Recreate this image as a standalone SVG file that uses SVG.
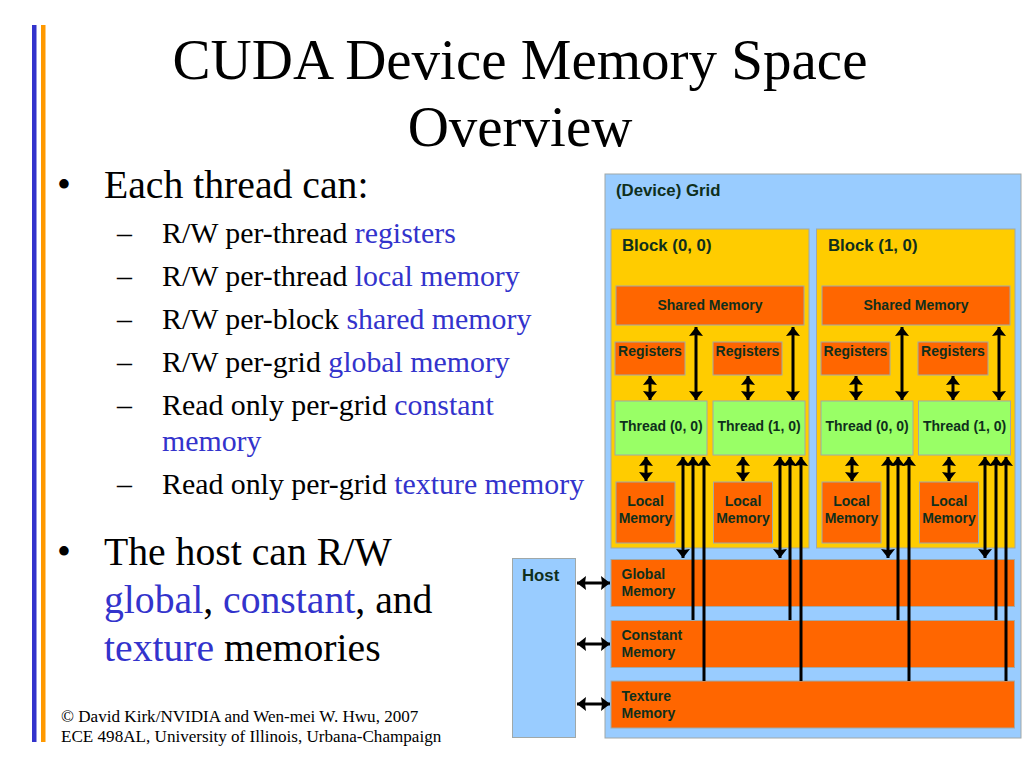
<svg xmlns="http://www.w3.org/2000/svg" width="1024" height="768" viewBox="0 0 1024 768">
<style>
.t{font-family:"Liberation Serif","Times New Roman",serif;fill:#000}
.title{font-size:57px;text-anchor:middle}
.l1{font-size:39.700px}
.l2{font-size:29.850px}
.foot{font-size:17.1px}
.hl{fill:#3333cc}
.n{font-family:"Liberation Sans",Arial,sans-serif;font-weight:bold;font-size:14px;fill:#0f2f1c}
.big{font-size:16.8px}
.m{text-anchor:middle}
.b{stroke:#a0a8a8;stroke-width:1}
.grid{fill:#99ccff}
.block{fill:#ffcc00}
.mem{fill:#ff6600}
.th{fill:#99ff66}
.c{stroke:#000;stroke-width:3;fill:none}
.d{marker-start:url(#h);marker-end:url(#h)}
.u{marker-start:url(#h)}
</style>
<defs>
<marker id="h" markerUnits="userSpaceOnUse" markerWidth="10" markerHeight="15" refX="9" refY="7" orient="auto-start-reverse" viewBox="0 0 10 14"><path d="M0 0L9 7L0 14L1 7Z" fill="#000"/></marker>
</defs>
<rect x="32" y="25" width="4.500" height="717" fill="#3333cc"/>
<rect x="41" y="25" width="4.500" height="717" fill="#ff9900"/>
<g id="slide-text">
<text class="t title" x="520" y="79">CUDA Device Memory Space</text>
<text class="t title" x="520" y="146">Overview</text>
<text class="t l1" x="57" y="198">•</text>
<text class="t l1" x="104" y="198">Each thread can:</text>
<text class="t l2" x="117" y="243">–</text><text class="t l2" x="162" y="243">R/W per-thread <tspan class="hl">registers</tspan></text>
<text class="t l2" x="117" y="286">–</text><text class="t l2" x="162" y="286">R/W per-thread <tspan class="hl">local memory</tspan></text>
<text class="t l2" x="117" y="329">–</text><text class="t l2" x="162" y="329">R/W per-block <tspan class="hl">shared memory</tspan></text>
<text class="t l2" x="117" y="372">–</text><text class="t l2" x="162" y="372">R/W per-grid <tspan class="hl">global memory</tspan></text>
<text class="t l2" x="117" y="415">–</text><text class="t l2" x="162" y="415">Read only per-grid <tspan class="hl">constant</tspan></text>
<text class="t l2 hl" x="162" y="451">memory</text>
<text class="t l2" x="117" y="494">–</text><text class="t l2" x="162" y="494">Read only per-grid <tspan class="hl">texture memory</tspan></text>
<text class="t l1" x="57" y="565">•</text>
<text class="t l1" x="104" y="565">The host can R/W</text>
<text class="t l1" x="104" y="613"><tspan class="hl">global</tspan>, <tspan class="hl">constant</tspan>, and</text>
<text class="t l1" x="104" y="661"><tspan class="hl">texture</tspan> memories</text>
<text class="t foot" x="61" y="722">© David Kirk/NVIDIA and Wen-mei W. Hwu, 2007</text>
<text class="t foot" x="61" y="742">ECE 498AL, University of Illinois, Urbana-Champaign</text>
</g>
<g id="grid"><rect class="grid b" x="605" y="174" width="416" height="564"/><text class="n big" x="616" y="196">(Device) Grid</text></g>
<g id="host"><rect class="grid b" x="512.500" y="558.500" width="63" height="179"/><text class="n big" x="522" y="581">Host</text></g>
<g id="block-0"><rect class="block b" x="611" y="229" width="198" height="319"/><text class="n big" x="622" y="251">Block (0, 0)</text></g>
<g id="block-1"><rect class="block b" x="816.500" y="229" width="198.500" height="319"/><text class="n big" x="828" y="251">Block (1, 0)</text></g>
<g id="shared-0"><rect class="mem b" x="616" y="286" width="188" height="39"/><text class="n m" x="710" y="310">Shared Memory</text></g>
<g id="shared-1"><rect class="mem b" x="822" y="286" width="188" height="39"/><text class="n m" x="916" y="310">Shared Memory</text></g>
<g id="reg-0-0"><rect class="mem b" x="615" y="342" width="70" height="33"/><text class="n m" x="650" y="356">Registers</text></g>
<g id="reg-0-1"><rect class="mem b" x="713" y="342" width="69" height="33"/><text class="n m" x="747.500" y="356">Registers</text></g>
<g id="reg-1-0"><rect class="mem b" x="821" y="342" width="69" height="33"/><text class="n m" x="855.500" y="356">Registers</text></g>
<g id="reg-1-1"><rect class="mem b" x="918" y="342" width="70" height="33"/><text class="n m" x="953" y="356">Registers</text></g>
<g id="thread-0-0"><rect class="th b" x="615" y="401" width="92" height="54"/><text class="n m" x="661" y="431">Thread (0, 0)</text></g>
<g id="thread-0-1"><rect class="th b" x="713" y="401" width="92" height="54"/><text class="n m" x="759" y="431">Thread (1, 0)</text></g>
<g id="thread-1-0"><rect class="th b" x="821" y="401" width="92" height="54"/><text class="n m" x="867" y="431">Thread (0, 0)</text></g>
<g id="thread-1-1"><rect class="th b" x="918.500" y="401" width="92" height="54"/><text class="n m" x="964.500" y="431">Thread (1, 0)</text></g>
<g id="local-0-0"><rect class="mem b" x="616" y="482" width="59" height="61"/><text class="n m" x="645.500" y="506">Local</text><text class="n m" x="645.500" y="523">Memory</text></g>
<g id="local-0-1"><rect class="mem b" x="713.500" y="482" width="59" height="61"/><text class="n m" x="743" y="506">Local</text><text class="n m" x="743" y="523">Memory</text></g>
<g id="local-1-0"><rect class="mem b" x="822" y="482" width="59" height="61"/><text class="n m" x="851.500" y="506">Local</text><text class="n m" x="851.500" y="523">Memory</text></g>
<g id="local-1-1"><rect class="mem b" x="919.500" y="482" width="59" height="61"/><text class="n m" x="949" y="506">Local</text><text class="n m" x="949" y="523">Memory</text></g>
<g id="global"><rect class="mem b" x="611" y="559.500" width="403.500" height="47"/><text class="n" x="621.500" y="579">Global</text><text class="n" x="621.500" y="596">Memory</text></g>
<g id="constant"><rect class="mem b" x="611" y="620.500" width="403.500" height="47"/><text class="n" x="621.500" y="640">Constant</text><text class="n" x="621.500" y="657">Memory</text></g>
<g id="texture"><rect class="mem b" x="611" y="681" width="403.500" height="47"/><text class="n" x="621.500" y="701">Texture</text><text class="n" x="621.500" y="718">Memory</text></g>
<g id="connectors">
<path class="c d" d="M696 327V400"/><path class="c d" d="M793 327V400"/><path class="c d" d="M902 327V400"/><path class="c d" d="M999 327V400"/>
<path class="c d" d="M650 376V400"/><path class="c d" d="M748 376V400"/><path class="c d" d="M856 376V400"/><path class="c d" d="M953 376V400"/>
<path class="c d" d="M646 457V481"/><path class="c d" d="M743 457V481"/><path class="c d" d="M852 457V481"/><path class="c d" d="M949 457V481"/>
<path class="c d" d="M683 457V558"/><path class="c d" d="M780 457V558"/><path class="c d" d="M888 457V558"/><path class="c d" d="M985 457V558"/>
<path class="c u" d="M693 457V620"/><path class="c u" d="M790 457V620"/><path class="c u" d="M898 457V620"/><path class="c u" d="M996 457V620"/>
<path class="c u" d="M704 457V681"/><path class="c u" d="M801 457V681"/><path class="c u" d="M909 457V681"/><path class="c u" d="M1006 457V681"/>
<path class="c d" d="M577 583H610"/><path class="c d" d="M577 644H610"/><path class="c d" d="M577 704H610"/>
</g>
</svg>
